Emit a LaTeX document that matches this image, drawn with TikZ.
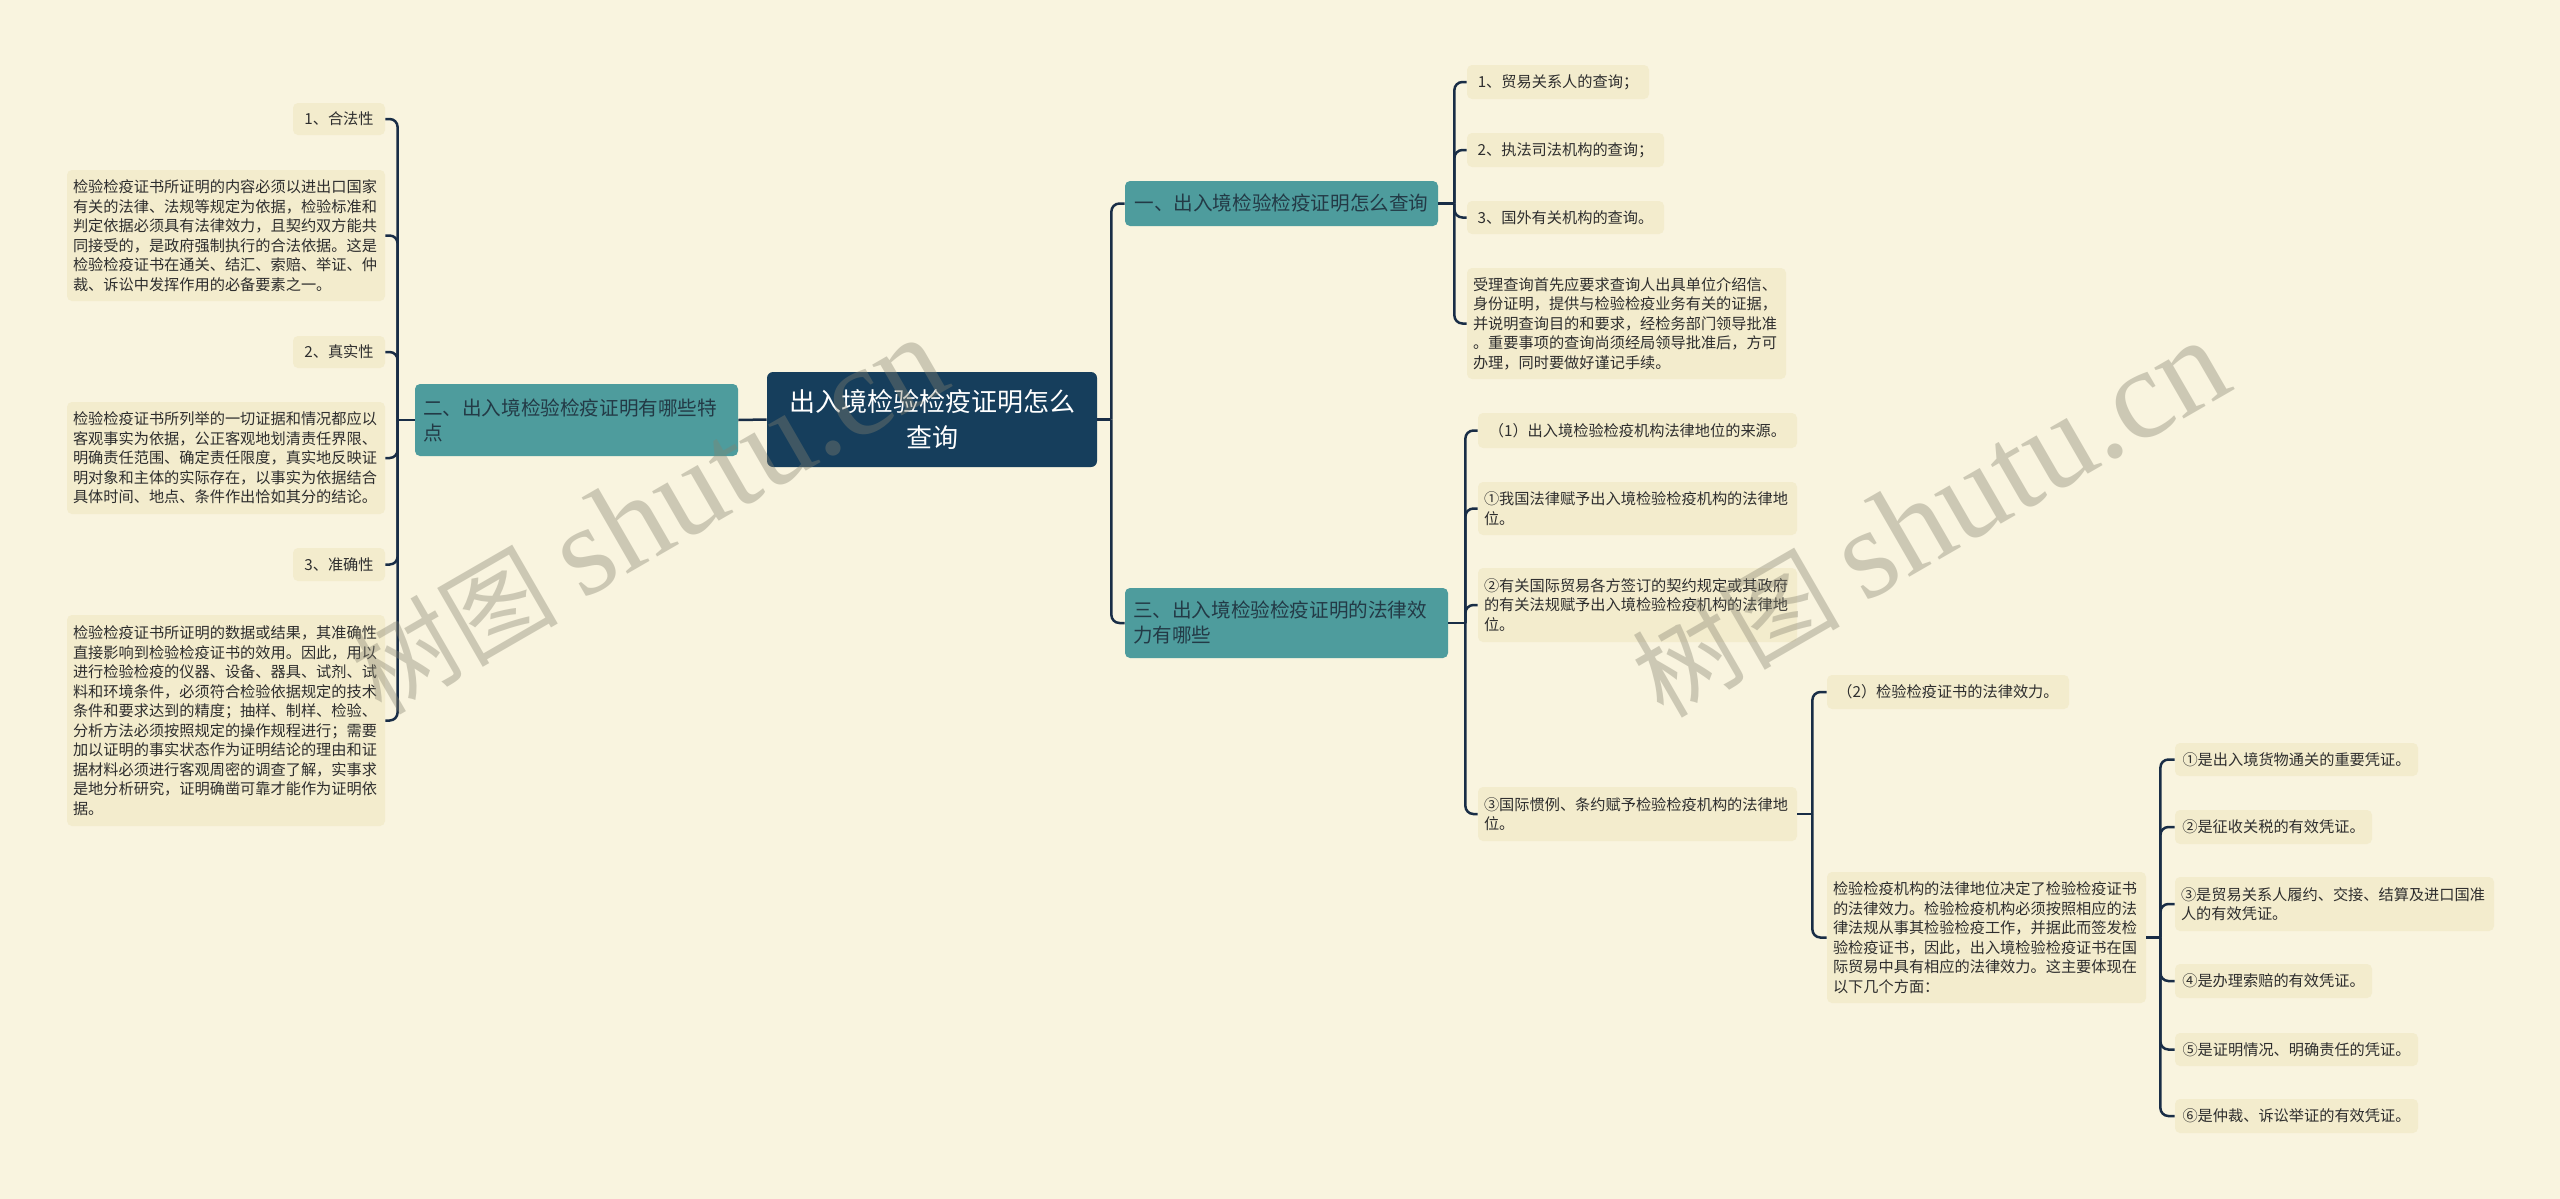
\documentclass[tikz,border=0pt]{standalone}
\usepackage{fontspec}
\setmainfont{Noto Sans CJK SC}
\newfontfamily\wmlatin{Liberation Serif}
\usetikzlibrary{calc}
\definecolor{bg}{HTML}{F9F4DF}
\definecolor{leaffill}{HTML}{F3ECCD}
\definecolor{tealfill}{HTML}{4E9C9D}
\definecolor{rootfill}{HTML}{163E5C}
\definecolor{conn}{HTML}{192D46}
\definecolor{leaftext}{HTML}{2E2E2E}
\definecolor{tealtext}{HTML}{233A46}
\definecolor{wm}{HTML}{85826F}
\tikzset{
  leaf/.style={fill=leaffill, rounded corners=2.5pt, inner xsep=3pt, inner ysep=0pt,
    text=leaftext, font=\fontsize{7.6pt}{9.75pt}\selectfont},
  para/.style={leaf, align=left, text width=153.5pt},
  branch/.style={fill=tealfill, rounded corners=2.5pt, inner xsep=4pt, inner ysep=0pt,
    text=tealtext, font=\fontsize{9.8pt}{12.5pt}\selectfont},
  rootbox/.style={fill=rootfill, rounded corners=3pt, inner sep=0pt, text=white,
    align=center, font=\fontsize{13pt}{18pt}\selectfont},
  link/.style={draw=conn, line width=1.25pt, rounded corners=4pt},
  wmark/.style={rotate=30, text=wm, opacity=0.38, inner sep=0pt}
}
\begin{document}
\begin{tikzpicture}[x=0.5pt,y=-0.5pt]
\fill[bg] (0,0) rectangle (2560,1199);
\useasboundingbox (0,0) rectangle (2560,1199);

% root
\node[rootbox, minimum width=165pt, minimum height=47.5pt] (root) at (932,419.5)
  {出入境检验检疫证明怎么\\查询};

% left branch
\node[branch, align=left, text width=153.5pt, minimum height=36pt] (n2) at (576.5,420)
  {二、出入境检验检疫证明有哪些特\\点};
\node[leaf, minimum width=46pt, minimum height=16pt] (L1) at (339,119) {1、合法性};
\node[para, text width=153pt, minimum height=65.5pt] (T1) at (226,235.5)
  {检验检疫证书所证明的内容必须以进出口国家\\有关的法律、法规等规定为依据，检验标准和\\判定依据必须具有法律效力，且契约双方能共\\同接受的，是政府强制执行的合法依据。这是\\检验检疫证书在通关、结汇、索赔、举证、仲\\裁、诉讼中发挥作用的必备要素之一。};
\node[leaf, minimum width=46pt, minimum height=16pt] (L2) at (339,352) {2、真实性};
\node[para, text width=153pt, minimum height=56pt] (T2) at (226,458)
  {检验检疫证书所列举的一切证据和情况都应以\\客观事实为依据，公正客观地划清责任界限、\\明确责任范围、确定责任限度，真实地反映证\\明对象和主体的实际存在，以事实为依据结合\\具体时间、地点、条件作出恰如其分的结论。};
\node[leaf, minimum width=46pt, minimum height=16.5pt] (L3) at (339,564.5) {3、准确性};
\node[para, text width=153pt, minimum height=105.5pt] (T3) at (226,720.5)
  {检验检疫证书所证明的数据或结果，其准确性\\直接影响到检验检疫证书的效用。因此，用以\\进行检验检疫的仪器、设备、器具、试剂、试\\料和环境条件，必须符合检验依据规定的技术\\条件和要求达到的精度；抽样、制样、检验、\\分析方法必须按照规定的操作规程进行；需要\\加以证明的事实状态作为证明结论的理由和证\\据材料必须进行客观周密的调查了解，实事求\\是地分析研究，证明确凿可靠才能作为证明依\\据。};

% right branch 1
\node[branch, minimum width=156.5pt, minimum height=22.5pt] (n1) at (1281.5,203.5)
  {一、出入境检验检疫证明怎么查询};
\node[leaf, minimum width=91pt, minimum height=17pt] (R1) at (1558,82) {1、贸易关系人的查询；};
\node[leaf, minimum width=98.5pt, minimum height=17pt] (R2) at (1565.5,150) {2、执法司法机构的查询；};
\node[leaf, minimum width=98.5pt, minimum height=16.5pt] (R3) at (1565.5,217.5) {3、国外有关机构的查询。};
\node[para, minimum height=55.5pt] (R4) at (1626.5,323.5)
  {受理查询首先应要求查询人出具单位介绍信、\\身份证明，提供与检验检疫业务有关的证据，\\并说明查询目的和要求，经检务部门领导批准\\。重要事项的查询尚须经局领导批准后，方可\\办理，同时要做好谨记手续。};

% right branch 3
\node[branch, align=left, text width=153.5pt, minimum height=35pt] (n3) at (1286.5,623)
  {三、出入境检验检疫证明的法律效\\力有哪些};
\node[leaf, minimum width=159.5pt, minimum height=17.5pt] (S1) at (1637.5,430.5)
  {（1）出入境检验检疫机构法律地位的来源。};
\node[para, minimum height=26.5pt] (S2) at (1637.5,508.5)
  {①我国法律赋予出入境检验检疫机构的法律地\\位。};
\node[para, minimum height=37pt] (S3) at (1637.5,605)
  {②有关国际贸易各方签订的契约规定或其政府\\的有关法规赋予出入境检验检疫机构的法律地\\位。};
\node[para, minimum height=27pt] (S4) at (1637.5,814)
  {③国际惯例、条约赋予检验检疫机构的法律地\\位。};
\node[leaf, minimum width=121pt, minimum height=17pt] (P1) at (1948,692)
  {（2）检验检疫证书的法律效力。};
\node[para, minimum height=65.5pt] (P2) at (1986.5,937.5)
  {检验检疫机构的法律地位决定了检验检疫证书\\的法律效力。检验检疫机构必须按照相应的法\\律法规从事其检验检疫工作，并据此而签发检\\验检疫证书，因此，出入境检验检疫证书在国\\际贸易中具有相应的法律效力。这主要体现在\\以下几个方面：};
\node[leaf, minimum width=121.5pt, minimum height=16.5pt] (Q1) at (2296.5,759.5) {①是出入境货物通关的重要凭证。};
\node[leaf, minimum width=98.5pt, minimum height=17pt] (Q2) at (2273.5,827) {②是征收关税的有效凭证。};
\node[para, minimum height=27pt] (Q3) at (2334.5,904)
  {③是贸易关系人履约、交接、结算及进口国准\\人的有效凭证。};
\node[leaf, minimum width=98.5pt, minimum height=17pt] (Q4) at (2273.5,981) {④是办理索赔的有效凭证。};
\node[leaf, minimum width=121.5pt, minimum height=16.5pt] (Q5) at (2296.5,1049.5) {⑤是证明情况、明确责任的凭证。};
\node[leaf, minimum width=121.5pt, minimum height=17pt] (Q6) at (2296.5,1116) {⑥是仲裁、诉讼举证的有效凭证。};

% connectors
\coordinate (jR) at ($(root.east)+(14,0)$);
\draw[link] (root.east) -- (jR);
\draw[link] (jR) |- (n1.west);
\draw[link] (jR) |- (n3.west);
\draw[link] (root.west) -- (n2.east);

\coordinate (jL) at ($(n2.west)+(-17,0)$);
\draw[link] (n2.west) -- (jL);
\foreach \c in {L1,T1,L2,T2,L3,T3} \draw[link] (jL) |- (\c.east);

\coordinate (j1) at ($(n1.east)+(16,0)$);
\draw[link] (n1.east) -- (j1);
\foreach \c in {R1,R2,R3,R4} \draw[link] (j1) |- (\c.west);

\coordinate (j3) at ($(n3.east)+(17,0)$);
\draw[link] (n3.east) -- (j3);
\foreach \c in {S1,S2,S3,S4} \draw[link] (j3) |- (\c.west);

\coordinate (j4) at ($(S4.east)+(15,0)$);
\draw[link] (S4.east) -- (j4);
\foreach \c in {P1,P2} \draw[link] (j4) |- (\c.west);

\coordinate (j5) at ($(P2.east)+(14,0)$);
\draw[link] (P2.east) -- (j5);
\foreach \c in {Q1,Q2,Q3,Q4,Q5,Q6} \draw[link] (j5) |- (\c.west);

% watermarks
\node[wmark] (wm1) at (648,516)
  {\fontsize{52pt}{52pt}\selectfont 树图\hspace{12pt}{\wmlatin\fontsize{64pt}{64pt}\selectfont shutu.cn}};
\node[wmark] (wm2) at (1930,519)
  {\fontsize{52pt}{52pt}\selectfont 树图\hspace{12pt}{\wmlatin\fontsize{64pt}{64pt}\selectfont shutu.cn}};
\end{tikzpicture}
\end{document}
